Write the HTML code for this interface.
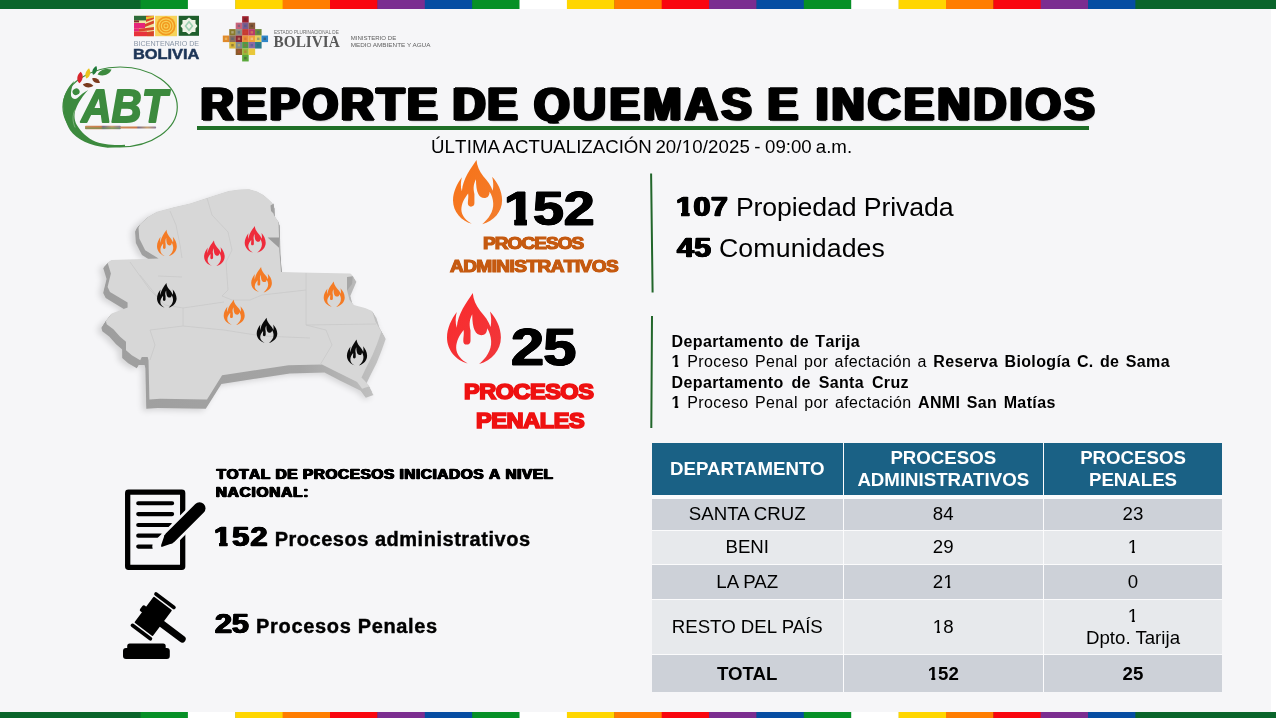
<!DOCTYPE html>
<html lang="es">
<head>
<meta charset="utf-8">
<title>Reporte de Quemas e Incendios</title>
<style>
*{box-sizing:border-box;margin:0;padding:0}
html,body{width:1276px;height:718px;overflow:hidden;background:#f6f6f8}
body{position:relative;font-family:"Liberation Sans",sans-serif;color:#000}
.t{position:absolute;white-space:nowrap;line-height:1;transform-origin:0 0;font-kerning:none}
.bar{position:absolute;left:0;width:1276px;display:block}
#edge{position:absolute;left:1271px;top:9px;width:5px;height:703px;background:#fff}
.vl{position:absolute;width:2px;background:#22662b}
#uline{position:absolute;left:197px;top:125.6px;width:891.8px;height:4.9px;background:#1f6f27;z-index:3}
.d b{font-weight:700}
#title{font-size:0;font-weight:700}
#sub{font-size:0}
.one1{display:inline-block;line-height:1}
.one{display:inline-block;line-height:1}
/*FIT*/
#ti1{left:200.63px;top:82.00px;font-size:45.6px;letter-spacing:2.751px;font-weight:700;-webkit-text-stroke:1.60px currentColor;paint-order:stroke fill;--hs:2.05px 0 0 currentColor,-2.05px 0 0 currentColor,1.03px 0 0 currentColor,-1.03px 0 0 currentColor;text-shadow:var(--hs),1.2px 1.2px 1.8px rgba(0,0,0,.4);clip-path:inset(-20px -20px 4.40px -20px);}
#ti2{left:452.63px;top:82.00px;font-size:45.6px;letter-spacing:1.745px;font-weight:700;-webkit-text-stroke:1.60px currentColor;paint-order:stroke fill;--hs:2.05px 0 0 currentColor,-2.05px 0 0 currentColor,1.03px 0 0 currentColor,-1.03px 0 0 currentColor;text-shadow:var(--hs),1.2px 1.2px 1.8px rgba(0,0,0,.4);clip-path:inset(-20px -20px 4.40px -20px);}
#ti3{left:534.09px;top:82.00px;font-size:45.6px;letter-spacing:3.492px;font-weight:700;-webkit-text-stroke:1.60px currentColor;paint-order:stroke fill;--hs:2.05px 0 0 currentColor,-2.05px 0 0 currentColor,1.03px 0 0 currentColor,-1.03px 0 0 currentColor;text-shadow:var(--hs),1.2px 1.2px 1.8px rgba(0,0,0,.4);clip-path:inset(-20px -20px 4.40px -20px);}
#ti4{left:767.63px;top:82.00px;font-size:45.6px;font-weight:700;-webkit-text-stroke:1.60px currentColor;paint-order:stroke fill;--hs:2.05px 0 0 currentColor,-2.05px 0 0 currentColor,1.03px 0 0 currentColor,-1.03px 0 0 currentColor;text-shadow:var(--hs),1.2px 1.2px 1.8px rgba(0,0,0,.4);clip-path:inset(-20px -20px 4.40px -20px);}
#ti5{left:815.75px;top:82.00px;font-size:45.6px;letter-spacing:3.181px;font-weight:700;-webkit-text-stroke:1.60px currentColor;paint-order:stroke fill;--hs:2.05px 0 0 currentColor,-2.05px 0 0 currentColor,1.03px 0 0 currentColor,-1.03px 0 0 currentColor;text-shadow:var(--hs),1.2px 1.2px 1.8px rgba(0,0,0,.4);clip-path:inset(-20px -20px 4.40px -20px);}
#sb1{left:431.00px;top:138.00px;font-size:18.67px;letter-spacing:0.131px;}
#sb2{left:502.58px;top:138.00px;font-size:18.67px;letter-spacing:-0.004px;}
#sb3{left:655.38px;top:138.00px;font-size:18.67px;letter-spacing:0.123px;}
#sb4{left:754.17px;top:138.00px;font-size:18.67px;}
#sb5{left:765.06px;top:138.00px;font-size:18.67px;letter-spacing:-0.014px;}
#sb6{left:815.75px;top:138.00px;font-size:18.67px;letter-spacing:0.012px;}
#n152{left:503.86px;top:184.00px;font-size:49px;letter-spacing:-0.063px;transform:scaleX(1.1300);font-weight:700;-webkit-text-stroke:0.83px currentColor;paint-order:stroke fill;--hs:0.88px 0 0 currentColor,-0.88px 0 0 currentColor,0.44px 0 0 currentColor,-0.44px 0 0 currentColor;text-shadow:var(--hs);}
#pa1{left:482.58px;top:235.01px;font-size:17.0px;letter-spacing:-0.857px;transform:scaleX(1.1200);font-weight:700;-webkit-text-stroke:1.19px currentColor;paint-order:stroke fill;--hs:0.17px 0 0 currentColor,-0.17px 0 0 currentColor,0.09px 0 0 currentColor,-0.09px 0 0 currentColor;text-shadow:var(--hs);color:#c55a11;}
#pa2{left:449.96px;top:258.00px;font-size:17.0px;letter-spacing:-0.508px;transform:scaleX(1.1200);font-weight:700;-webkit-text-stroke:1.19px currentColor;paint-order:stroke fill;--hs:0.17px 0 0 currentColor,-0.17px 0 0 currentColor,0.09px 0 0 currentColor,-0.09px 0 0 currentColor;text-shadow:var(--hs);color:#c55a11;}
#n25{left:511.13px;top:321.00px;font-size:52.6px;letter-spacing:-0.698px;transform:scaleX(1.1300);font-weight:700;-webkit-text-stroke:0.89px currentColor;paint-order:stroke fill;--hs:0.95px 0 0 currentColor,-0.95px 0 0 currentColor,0.47px 0 0 currentColor,-0.47px 0 0 currentColor;text-shadow:var(--hs);}
#pp1{left:463.90px;top:381.00px;font-size:21.8px;letter-spacing:-0.475px;transform:scaleX(1.0800);font-weight:700;-webkit-text-stroke:1.74px currentColor;paint-order:stroke fill;--hs:0.33px 0 0 currentColor,-0.33px 0 0 currentColor,0.16px 0 0 currentColor,-0.16px 0 0 currentColor;text-shadow:var(--hs);color:#ee1111;}
#pp2{left:475.94px;top:410.00px;font-size:21.8px;letter-spacing:-0.386px;transform:scaleX(1.0800);font-weight:700;-webkit-text-stroke:1.74px currentColor;paint-order:stroke fill;--hs:0.33px 0 0 currentColor,-0.33px 0 0 currentColor,0.16px 0 0 currentColor,-0.16px 0 0 currentColor;text-shadow:var(--hs);color:#ee1111;}
#l1n{left:676.00px;top:193.01px;font-size:27.2px;letter-spacing:0.473px;transform:scaleX(1.1200);font-weight:700;-webkit-text-stroke:0.46px currentColor;paint-order:stroke fill;--hs:0.82px 0 0 currentColor,-0.82px 0 0 currentColor,0.41px 0 0 currentColor,-0.41px 0 0 currentColor;text-shadow:var(--hs);}
#l1t{left:735.89px;top:194.01px;font-size:26.67px;letter-spacing:-0.104px;}
#l2n{left:676.99px;top:234.01px;font-size:27.2px;letter-spacing:0.225px;transform:scaleX(1.1200);font-weight:700;-webkit-text-stroke:0.46px currentColor;paint-order:stroke fill;--hs:0.82px 0 0 currentColor,-0.82px 0 0 currentColor,0.41px 0 0 currentColor,-0.41px 0 0 currentColor;text-shadow:var(--hs);}
#l2t{left:718.94px;top:235.00px;font-size:26.67px;letter-spacing:0.151px;}
#d1{left:671.61px;top:334.00px;font-size:16px;letter-spacing:0.370px;word-spacing:1.283px;}
#d2{left:671.61px;top:354.01px;font-size:16px;letter-spacing:0.370px;word-spacing:1.542px;}
#d3{left:671.61px;top:375.01px;font-size:16px;letter-spacing:0.370px;word-spacing:2.997px;}
#d4{left:671.61px;top:395.01px;font-size:16px;letter-spacing:0.370px;word-spacing:1.615px;}
#tt1{left:216.60px;top:466.01px;font-size:15.5px;letter-spacing:0.499px;font-weight:700;-webkit-text-stroke:0.46px currentColor;paint-order:stroke fill;--hs:0.78px 0 0 currentColor,-0.78px 0 0 currentColor,0.39px 0 0 currentColor,-0.39px 0 0 currentColor;text-shadow:var(--hs);}
#tt2{left:215.75px;top:484.01px;font-size:15.5px;letter-spacing:0.710px;font-weight:700;-webkit-text-stroke:0.46px currentColor;paint-order:stroke fill;--hs:0.78px 0 0 currentColor,-0.78px 0 0 currentColor,0.39px 0 0 currentColor,-0.39px 0 0 currentColor;text-shadow:var(--hs);}
#s1n{left:214.00px;top:523.00px;font-size:27.2px;letter-spacing:1.177px;transform:scaleX(1.1200);font-weight:700;-webkit-text-stroke:0.46px currentColor;paint-order:stroke fill;--hs:0.82px 0 0 currentColor,-0.82px 0 0 currentColor,0.41px 0 0 currentColor,-0.41px 0 0 currentColor;text-shadow:var(--hs);}
#s1t{left:274.63px;top:529.01px;font-size:20px;letter-spacing:0.520px;font-weight:700;-webkit-text-stroke:0.40px currentColor;paint-order:stroke fill;font-weight:700;}
#s2n{left:215.20px;top:610.01px;font-size:27.2px;letter-spacing:-0.017px;transform:scaleX(1.1200);font-weight:700;-webkit-text-stroke:0.46px currentColor;paint-order:stroke fill;--hs:0.82px 0 0 currentColor,-0.82px 0 0 currentColor,0.41px 0 0 currentColor,-0.41px 0 0 currentColor;text-shadow:var(--hs);}
#s2t{left:256.12px;top:616.01px;font-size:20px;letter-spacing:0.659px;font-weight:700;-webkit-text-stroke:0.40px currentColor;paint-order:stroke fill;font-weight:700;}
/*ENDFIT*/
/* table */
#tbl{position:absolute;left:652px;top:443px;width:570px;height:249px}
#tbl div{position:absolute;display:flex;align-items:center;justify-content:center;text-align:center;font-size:18.67px;line-height:22px;white-space:nowrap}
#tbl .h{background:#1a6185;color:#fff;font-weight:700;top:0;height:51.5px}
#tbl .a{background:#cdd1d8}
#tbl .b{background:#e7e9ec}
#tbl .c1{left:0;width:190.5px}
#tbl .c2{left:192px;width:198.5px}
#tbl .c3{left:392px;width:178px}
#tbl .r1{top:56px;height:30.5px}
#tbl .r2{top:88px;height:32.5px}
#tbl .r3{top:122px;height:33.5px}
#tbl .r4{top:157px;height:53.5px}
#tbl .r5{top:212px;height:37px;font-weight:700}
#tblbg{position:absolute;left:652px;top:443px;width:570px;height:249px;background:#fbfbfc}
svg{position:absolute;overflow:visible}
</style>
</head>
<body>
<!--BARS-->
<svg class="bar" id="bt" style="left:0;top:0px" width="1276" height="9" viewBox="0 0 1276 9"><rect x="0" y="0" width="1276" height="9" fill="#0a652b"/><rect x="140.5" y="0" width="47.7" height="9" fill="#069026"/><rect x="187.9" y="0" width="47.7" height="9" fill="#ffffff"/><rect x="235.3" y="0" width="47.7" height="9" fill="#ffd600"/><rect x="282.6" y="0" width="47.7" height="9" fill="#ff7d00"/><rect x="330.0" y="0" width="47.7" height="9" fill="#f9060f"/><rect x="377.4" y="0" width="47.7" height="9" fill="#7b2d90"/><rect x="424.8" y="0" width="47.7" height="9" fill="#064da2"/><rect x="472.2" y="0" width="47.7" height="9" fill="#069026"/><rect x="519.5" y="0" width="47.7" height="9" fill="#ffffff"/><rect x="566.9" y="0" width="47.7" height="9" fill="#ffd600"/><rect x="614.3" y="0" width="47.7" height="9" fill="#ff7d00"/><rect x="661.7" y="0" width="47.7" height="9" fill="#f9060f"/><rect x="709.1" y="0" width="47.7" height="9" fill="#7b2d90"/><rect x="756.5" y="0" width="47.7" height="9" fill="#064da2"/><rect x="803.8" y="0" width="47.7" height="9" fill="#069026"/><rect x="851.2" y="0" width="47.7" height="9" fill="#ffffff"/><rect x="898.6" y="0" width="47.7" height="9" fill="#ffd600"/><rect x="946.0" y="0" width="47.7" height="9" fill="#ff7d00"/><rect x="993.4" y="0" width="47.7" height="9" fill="#f9060f"/><rect x="1040.7" y="0" width="47.7" height="9" fill="#7b2d90"/><rect x="1088.1" y="0" width="47.7" height="9" fill="#064da2"/><rect x="1135.5" y="0" width="140.5" height="9" fill="#0a652b"/></svg>
<svg class="bar" id="bb" style="left:0;top:712px" width="1276" height="6" viewBox="0 0 1276 6"><rect x="0" y="0" width="1276" height="6" fill="#0a652b"/><rect x="140.5" y="0" width="47.7" height="6" fill="#069026"/><rect x="187.9" y="0" width="47.7" height="6" fill="#ffffff"/><rect x="235.3" y="0" width="47.7" height="6" fill="#ffd600"/><rect x="282.6" y="0" width="47.7" height="6" fill="#ff7d00"/><rect x="330.0" y="0" width="47.7" height="6" fill="#f9060f"/><rect x="377.4" y="0" width="47.7" height="6" fill="#7b2d90"/><rect x="424.8" y="0" width="47.7" height="6" fill="#064da2"/><rect x="472.2" y="0" width="47.7" height="6" fill="#069026"/><rect x="519.5" y="0" width="47.7" height="6" fill="#ffffff"/><rect x="566.9" y="0" width="47.7" height="6" fill="#ffd600"/><rect x="614.3" y="0" width="47.7" height="6" fill="#ff7d00"/><rect x="661.7" y="0" width="47.7" height="6" fill="#f9060f"/><rect x="709.1" y="0" width="47.7" height="6" fill="#7b2d90"/><rect x="756.5" y="0" width="47.7" height="6" fill="#064da2"/><rect x="803.8" y="0" width="47.7" height="6" fill="#069026"/><rect x="851.2" y="0" width="47.7" height="6" fill="#ffffff"/><rect x="898.6" y="0" width="47.7" height="6" fill="#ffd600"/><rect x="946.0" y="0" width="47.7" height="6" fill="#ff7d00"/><rect x="993.4" y="0" width="47.7" height="6" fill="#f9060f"/><rect x="1040.7" y="0" width="47.7" height="6" fill="#7b2d90"/><rect x="1088.1" y="0" width="47.7" height="6" fill="#064da2"/><rect x="1135.5" y="0" width="140.5" height="6" fill="#0a652b"/></svg>
<!--/BARS-->
<div id="edge"></div>
<!--LOGOS-->
<svg id="bic" style="left:0;top:0" width="1276" height="718" viewBox="0 0 1276 718">
<g><rect x="134" y="15.8" width="19.9" height="20.4" fill="#f0e6a0"/><rect x="134" y="15.8" width="12" height="4.6" fill="#2d6b3a"/><rect x="134" y="20.4" width="5" height="2" fill="#7a3030"/><rect x="134" y="23" width="11" height="5.5" fill="#e6247a"/><rect x="134" y="28.5" width="5" height="3" fill="#e6247a"/><rect x="134" y="31.5" width="13" height="4.7" fill="#e8323c"/><path d="M146 15.8L153.9 15.8L153.9 19L146 22ZM145 24L153.9 20.5L153.9 23.5L145 27ZM139 29L153.9 27L153.9 30L139 31.5ZM147 32L153.9 31L153.9 36.2L147 36.2Z" fill="#d8452a"/><path d="M146 17L153.9 15.8L153.9 17.5L146 19.5Z" fill="#e9c62c"/></g><rect x="155.1" y="15.8" width="21.9" height="20.4" fill="#f6d35a"/><circle cx="166" cy="26" r="9.6" fill="#f29a1f"/><circle cx="166" cy="26" r="7.2" fill="none" stroke="#f8d057" stroke-width="1.2"/><circle cx="166" cy="26" r="4.6" fill="none" stroke="#f8d057" stroke-width="1.2"/><circle cx="166" cy="26" r="2" fill="none" stroke="#f8d057" stroke-width="1.1"/><rect x="178.7" y="15.8" width="20.3" height="20" fill="#1f5e2c"/><path d="M189 17.5L192 20L195.5 20L195.5 23.5L197.5 26L195.5 28.5L195.5 32L192 32L189 34.5L186 32L182.5 32L182.5 28.5L180.5 26L182.5 23.5L182.5 20L186 20Z" fill="#eef3e6"/><path d="M189 20.5L193.5 26L189 31.5L184.5 26Z" fill="#9ccfb0"/><path d="M189 23L191.5 26L189 29L186.5 26Z" fill="#eef3e6"/><text x="133.8" y="46.3" font-family="Liberation Sans,sans-serif" font-size="6.9" fill="#8995a6" textLength="65.3" lengthAdjust="spacingAndGlyphs">BICENTENARIO DE</text>
<text x="132.9" y="59.2" font-family="Liberation Sans,sans-serif" font-weight="700" font-size="15.2" fill="#1d3557" stroke="#1d3557" stroke-width=".5" textLength="66.6" lengthAdjust="spacingAndGlyphs">BOLIVIA</text></svg>
<svg id="chk" style="left:0;top:0" width="1276" height="718" viewBox="0 0 1276 718"><g><rect x="242.15" y="16.20" width="6.55" height="6.55" fill="#9c1f2b"/><rect x="235.70" y="22.65" width="6.55" height="6.55" fill="#c9637a"/><rect x="242.15" y="22.65" width="6.55" height="6.55" fill="#7c5a8c"/><rect x="248.60" y="22.65" width="6.55" height="6.55" fill="#8a5a3a"/><rect x="229.25" y="29.10" width="6.55" height="6.55" fill="#8a7a2a"/><rect x="235.70" y="29.10" width="6.55" height="6.55" fill="#8d8f86"/><rect x="242.15" y="29.10" width="6.55" height="6.55" fill="#c63a32"/><rect x="248.60" y="29.10" width="6.55" height="6.55" fill="#b93a6c"/><rect x="255.05" y="29.10" width="6.55" height="6.55" fill="#6a8a3a"/><rect x="222.80" y="35.55" width="6.55" height="6.55" fill="#e08a2a"/><rect x="229.25" y="35.55" width="6.55" height="6.55" fill="#8a6e5e"/><rect x="235.70" y="35.55" width="6.55" height="6.55" fill="#8e2430"/><rect x="242.15" y="35.55" width="6.55" height="6.55" fill="#e8923a"/><rect x="248.60" y="35.55" width="6.55" height="6.55" fill="#f0a03c"/><rect x="255.05" y="35.55" width="6.55" height="6.55" fill="#e8d05a"/><rect x="261.50" y="35.55" width="6.55" height="6.55" fill="#2f86c8"/><rect x="229.25" y="42.00" width="6.55" height="6.55" fill="#d8b83a"/><rect x="235.70" y="42.00" width="6.55" height="6.55" fill="#7e8a8e"/><rect x="242.15" y="42.00" width="6.55" height="6.55" fill="#4f9a48"/><rect x="248.60" y="42.00" width="6.55" height="6.55" fill="#8a6aa6"/><rect x="255.05" y="42.00" width="6.55" height="6.55" fill="#2c7a8a"/><rect x="235.70" y="48.45" width="6.55" height="6.55" fill="#8a5a2a"/><rect x="242.15" y="48.45" width="6.55" height="6.55" fill="#9ab83a"/><rect x="248.60" y="48.45" width="6.55" height="6.55" fill="#e8c83a"/><rect x="242.15" y="54.90" width="6.55" height="6.55" fill="#5aa83a"/><rect x="244.15" y="18.20" width="2.45" height="2.45" fill="#3a2a2a" opacity=".4"/><rect x="237.70" y="24.65" width="2.45" height="2.45" fill="#2a5a8a" opacity=".4"/><rect x="244.15" y="24.65" width="2.45" height="2.45" fill="#2a5a8a" opacity=".4"/><rect x="250.60" y="24.65" width="2.45" height="2.45" fill="#3a2a2a" opacity=".4"/><rect x="231.25" y="31.10" width="2.45" height="2.45" fill="#e8e8e8" opacity=".4"/><rect x="237.70" y="31.10" width="2.45" height="2.45" fill="#2a5a8a" opacity=".4"/><rect x="244.15" y="31.10" width="2.45" height="2.45" fill="#d04a3a" opacity=".4"/><rect x="250.60" y="31.10" width="2.45" height="2.45" fill="#f0c040" opacity=".4"/><rect x="257.05" y="31.10" width="2.45" height="2.45" fill="#2a5a8a" opacity=".4"/><rect x="224.80" y="37.55" width="2.45" height="2.45" fill="#f4e6a0" opacity=".4"/><rect x="231.25" y="37.55" width="2.45" height="2.45" fill="#2a5a8a" opacity=".4"/><rect x="237.70" y="37.55" width="2.45" height="2.45" fill="#f4e6a0" opacity=".4"/><rect x="244.15" y="37.55" width="2.45" height="2.45" fill="#d04a3a" opacity=".4"/><rect x="250.60" y="37.55" width="2.45" height="2.45" fill="#e8e8e8" opacity=".4"/><rect x="257.05" y="37.55" width="2.45" height="2.45" fill="#2a5a8a" opacity=".4"/><rect x="263.50" y="37.55" width="2.45" height="2.45" fill="#3a2a2a" opacity=".4"/><rect x="231.25" y="44.00" width="2.45" height="2.45" fill="#3a2a2a" opacity=".4"/><rect x="237.70" y="44.00" width="2.45" height="2.45" fill="#f0c040" opacity=".4"/><rect x="244.15" y="44.00" width="2.45" height="2.45" fill="#d04a3a" opacity=".4"/><rect x="250.60" y="44.00" width="2.45" height="2.45" fill="#2a5a8a" opacity=".4"/><rect x="257.05" y="44.00" width="2.45" height="2.45" fill="#2a5a8a" opacity=".4"/><rect x="237.70" y="50.45" width="2.45" height="2.45" fill="#d04a3a" opacity=".4"/><rect x="244.15" y="50.45" width="2.45" height="2.45" fill="#d04a3a" opacity=".4"/><rect x="250.60" y="50.45" width="2.45" height="2.45" fill="#f0c040" opacity=".4"/><rect x="244.15" y="56.90" width="2.45" height="2.45" fill="#3a2a2a" opacity=".4"/></g><text x="273.9" y="34" font-family="Liberation Sans,sans-serif" font-size="4.6" fill="#6b6b6b" textLength="64.9" lengthAdjust="spacingAndGlyphs">ESTADO PLURINACIONAL DE</text>
<text x="273.6" y="47.1" font-family="Liberation Serif,serif" font-weight="700" font-size="16.6" fill="#585858" textLength="66.2" lengthAdjust="spacingAndGlyphs">BOLIVIA</text>
<text x="350.7" y="40.3" font-family="Liberation Sans,sans-serif" font-size="5.9" fill="#5e5e5e" textLength="45.5" lengthAdjust="spacingAndGlyphs">MINISTERIO DE</text>
<text x="350.7" y="47.1" font-family="Liberation Sans,sans-serif" font-size="5.9" fill="#5e5e5e" textLength="79.7" lengthAdjust="spacingAndGlyphs">MEDIO AMBIENTE Y AGUA</text></svg>
<svg id="abt" style="left:50px;top:60px" width="140" height="95" viewBox="0 0 1058 718"><ellipse cx="530" cy="355" rx="432" ry="302" fill="none" stroke="#3c8a3e" stroke-width="9"/><path d="M185 156C150 185 105 250 99 322C95 400 120 480 152 531C200 600 300 650 436 663L567 656L567 640C480 647 390 635 341 616C290 595 230 540 204 493C180 450 180 400 199 360C215 325 250 265 289 227C260 240 225 270 205 290C190 300 172 295 162 278C152 255 165 195 185 156Z" fill="#3c8a3e"/><ellipse cx="197" cy="240" rx="27" ry="25" transform="rotate(-30 197 240)" fill="#3c8a3e"/><path d="M188 380C168 420 170 470 190 510" fill="none" stroke="#cfe5c8" stroke-width="4" opacity=".8"/><path d="M232 88C255 110 252 150 222 175C195 150 205 110 232 88Z" fill="#d8252c"/><path d="M295 62C312 90 305 125 275 140C258 112 270 82 295 62Z" fill="#eac41e"/><path d="M350 45C362 70 352 100 325 112C312 85 325 60 350 45Z" fill="#1f7a3a"/><path d="M318 140C345 130 370 145 378 172C350 180 325 168 318 140Z" fill="#7a3b1e"/><path d="M248 185C275 165 310 172 328 195C300 215 265 210 248 185Z" fill="#7a3b1e"/><path d="M360 110C375 75 420 60 465 72C450 110 405 128 360 110Z" fill="#3c8a3e"/><text x="238" y="468" font-family="Liberation Sans,sans-serif" font-weight="700" font-style="italic" font-size="345" fill="#3c8a3e" stroke="#3c8a3e" stroke-width="14" stroke-linejoin="round" textLength="648" lengthAdjust="spacingAndGlyphs">ABT</text><defs><linearGradient id="abtl" x1="0" x2="1" y1="0" y2="0"><stop offset="0" stop-color="#c98a5a"/><stop offset=".45" stop-color="#d07a4a"/><stop offset=".5" stop-color="#7a6a8a"/><stop offset=".75" stop-color="#c8a070"/><stop offset="1" stop-color="#8a7a9a"/></linearGradient></defs><rect x="265" y="497" width="270" height="26" rx="6" fill="url(#abtl)"/><rect x="265" y="510" width="270" height="10" fill="#5f9a55" opacity=".7"/><rect x="530" y="503" width="272" height="15" rx="6" fill="url(#abtl)"/></svg>
<!--/LOGOS-->
<!--MAP-->
<svg id="map" style="left:0;top:0" width="1276" height="718" viewBox="0 0 1276 718">
<defs><filter id="mb" x="-10%" y="-10%" width="120%" height="120%"><feGaussianBlur stdDeviation="0.6"/></filter><filter id="ms" x="-20%" y="-20%" width="140%" height="140%"><feGaussianBlur stdDeviation="3"/></filter><linearGradient id="mg" x1="0" y1="0" x2="1" y2="0"><stop offset="0" stop-color="#9e9e9e"/><stop offset=".7" stop-color="#a4a4a4"/><stop offset="1" stop-color="#c4c4c4"/></linearGradient><path id="fl" d="M345 45C350 100 370 150 410 200C450 245 485 290 500 340C510 290 505 245 495 205C545 260 590 340 590 430C590 540 510 630 400 660C460 610 510 540 505 460C503 420 490 380 470 350C470 390 450 410 420 410C370 410 340 360 340 230C320 270 310 310 325 370L325 460C325 480 310 492 292 492C272 492 262 478 262 460C262 430 270 400 265 365C230 410 200 460 200 520C200 580 250 630 300 655C200 630 120 540 120 430C120 350 160 270 205 210C195 250 190 300 205 345C215 220 290 130 345 45Z"/></defs>
<polygon points="131.2,232.2 133.0,228.7 141.1,221.1 150.4,215.7 169.2,210.7 185.1,206.9 205.6,200.3 225.2,193.9 236.8,192.5 246.4,192.2 254.5,194.6 261.1,198.2 265.9,202.4 269.9,206.1 271.6,208.6 272.0,219.1 276.8,226.1 277.4,241.8 277.7,255.6 279.4,278.3 299.2,278.8 351.6,279.9 354.2,282.6 351.2,289.7 348.1,297.0 350.8,307.4 355.0,312.6 366.8,315.7 374.2,318.7 377.7,330.1 383.8,340.5 379.3,353.2 374.6,364.6 367.8,378.1 363.2,388.0 365.8,390.6 371.6,397.0 363.8,399.6 358.6,392.7 337.7,382.3 322.1,374.4 287.2,375.3 247.2,381.2 218.2,385.7 202.5,410.9 153.8,410.0 142.6,410.9 141.6,370.0 140.8,366.6 134.7,366.6 133.0,370.0 124.3,364.8 118.2,359.6 118.2,350.9 112.1,345.7 105.1,337.9 98.2,332.7 97.3,329.1 103.4,321.3 119.9,315.3 119.9,310.0 101.6,299.1 99.1,293.9 102.5,279.9 99.1,268.7 103.4,265.7 152.1,264.3 138.2,255.6 132.1,243.4" fill="#000" opacity=".14" filter="url(#ms)"/>
<g filter="url(#mb)"><polygon points="137.9,228.4 139.6,225.0 147.5,217.6 156.4,212.4 174.6,207.6 190.0,204.0 209.8,197.5 228.7,191.4 240.0,190.0 249.2,189.7 257.1,192.0 263.5,195.5 268.1,199.5 271.9,203.2 273.7,205.6 274.0,215.7 278.7,222.5 279.2,237.6 279.5,251.0 281.2,272.9 300.3,273.4 351.0,274.5 353.5,277.1 350.6,284.0 347.5,291.0 350.2,301.1 354.3,306.1 365.6,309.1 372.8,312.0 376.2,323.0 382.0,333.0 377.7,345.3 373.2,356.3 366.6,369.4 362.1,378.9 364.6,381.4 370.3,387.7 362.7,390.2 357.7,383.5 337.5,373.4 322.4,365.8 288.7,366.7 250.0,372.4 222.0,376.7 206.8,401.0 159.7,400.2 148.9,401.0 148.0,361.6 147.2,358.2 141.2,358.2 139.6,361.6 131.2,356.5 125.4,351.5 125.4,343.1 119.4,338.0 112.7,330.5 106.0,325.5 105.2,322.1 111.0,314.5 127.0,308.7 127.0,303.6 109.3,293.0 106.9,288.0 110.2,274.5 106.9,263.7 111.0,260.7 158.1,259.4 144.7,251.0 138.7,239.2" fill="url(#mg)"/><polygon points="137.4,229.1 139.1,225.6 147.0,218.3 156.0,213.0 174.3,208.2 189.7,204.5 209.6,198.1 228.6,191.9 239.9,190.5 249.2,190.2 257.1,192.5 263.6,196.1 268.2,200.1 272.1,203.7 273.8,206.2 274.1,216.4 278.9,223.1 279.4,238.4 279.7,251.8 281.4,273.8 300.6,274.3 351.5,275.4 354.1,278.1 351.1,284.9 348.1,292.0 350.7,302.1 354.9,307.1 366.3,310.2 373.5,313.1 376.9,324.1 382.8,334.2 378.4,346.5 373.9,357.6 367.3,370.8 362.7,380.4 365.3,382.9 370.9,389.2 363.3,391.7 358.3,384.9 338.0,374.8 322.8,367.1 289.0,368.1 250.1,373.8 221.9,378.2 206.6,402.6 159.3,401.8 148.4,402.6 147.5,362.9 146.7,359.6 140.7,359.6 139.1,362.9 130.6,357.9 124.7,352.8 124.7,344.3 118.8,339.3 112.0,331.7 105.2,326.6 104.4,323.2 110.3,315.6 126.3,309.8 126.3,304.6 108.6,294.0 106.1,289.0 109.5,275.4 106.1,264.5 110.3,261.6 157.7,260.3 144.1,251.8 138.2,240.0" fill="url(#mg)"/><polygon points="136.8,229.8 138.5,226.3 146.4,218.9 155.5,213.6 173.9,208.8 189.4,205.1 209.4,198.6 228.5,192.4 239.9,191.0 249.3,190.7 257.2,193.0 263.7,196.6 268.4,200.6 272.2,204.3 274.0,206.7 274.3,217.0 279.0,223.8 279.5,239.1 279.8,252.6 281.6,274.7 300.9,275.2 352.1,276.4 354.6,279.0 351.7,285.9 348.6,293.0 351.3,303.1 355.4,308.2 366.9,311.3 374.1,314.2 377.6,325.3 383.5,335.4 379.1,347.8 374.5,359.0 367.9,372.2 363.4,381.8 365.9,384.4 371.6,390.6 364.0,393.2 358.9,386.4 338.5,376.2 323.2,368.5 289.2,369.4 250.1,375.2 221.7,379.6 206.4,404.1 158.8,403.3 147.9,404.1 147.0,364.3 146.1,360.9 140.1,360.9 138.5,364.3 130.0,359.2 124.1,354.1 124.1,345.6 118.1,340.5 111.3,332.9 104.5,327.8 103.7,324.4 109.6,316.8 125.7,310.9 125.7,305.7 107.8,295.0 105.4,290.0 108.8,276.4 105.4,265.4 109.6,262.4 157.2,261.1 143.6,252.6 137.6,240.7" fill="url(#mg)"/><polygon points="136.2,230.5 138.0,227.0 145.9,219.5 155.0,214.2 173.5,209.3 189.1,205.7 209.3,199.1 228.5,192.9 239.9,191.5 249.3,191.2 257.3,193.5 263.8,197.1 268.5,201.2 272.4,204.9 274.1,207.3 274.4,217.6 279.2,224.4 279.7,239.8 280.0,253.4 281.8,275.6 301.2,276.1 352.6,277.3 355.2,279.9 352.2,286.9 349.2,294.0 351.8,304.2 356.0,309.3 367.6,312.4 374.8,315.3 378.3,326.4 384.2,336.6 379.8,349.1 375.2,360.3 368.6,373.6 364.0,383.2 366.5,385.8 372.3,392.1 364.6,394.7 359.5,387.8 339.0,377.6 323.6,369.9 289.4,370.8 250.1,376.6 221.6,381.0 206.2,405.7 158.4,404.9 147.4,405.7 146.4,365.6 145.6,362.2 139.6,362.2 138.0,365.6 129.4,360.5 123.5,355.4 123.5,346.8 117.4,341.7 110.6,334.1 103.7,329.0 102.9,325.5 108.9,317.9 125.1,312.0 125.1,306.8 107.1,296.0 104.7,290.9 108.0,277.3 104.7,266.3 108.9,263.3 156.8,262.0 143.1,253.4 137.0,241.5" fill="url(#mg)"/><polygon points="135.7,231.1 137.4,227.7 145.4,220.2 154.6,214.8 173.1,209.9 188.8,206.2 209.1,199.7 228.4,193.4 239.9,192.0 249.3,191.7 257.3,194.0 263.9,197.6 268.6,201.7 272.5,205.4 274.3,207.9 274.6,218.2 279.4,225.1 279.9,240.6 280.2,254.2 282.0,276.6 301.5,277.1 353.2,278.2 355.8,280.9 352.8,287.8 349.7,295.0 352.4,305.2 356.6,310.4 368.2,313.4 375.5,316.4 379.0,327.6 384.9,337.8 380.5,350.4 375.9,361.6 369.2,374.9 364.6,384.7 367.2,387.2 372.9,393.6 365.2,396.2 360.1,389.3 339.5,379.1 324.1,371.3 289.7,372.2 250.1,378.0 221.5,382.4 206.0,407.2 157.9,406.4 146.9,407.2 145.9,367.0 145.1,363.6 139.0,363.6 137.4,367.0 128.8,361.8 122.8,356.7 122.8,348.1 116.8,343.0 109.9,335.3 103.0,330.2 102.2,326.7 108.1,319.0 124.5,313.0 124.5,307.8 106.4,297.1 103.9,291.9 107.3,278.2 103.9,267.1 108.1,264.1 156.3,262.8 142.5,254.2 136.5,242.2" fill="url(#mg)"/><polygon points="135.1,231.8 136.8,228.3 144.9,220.8 154.1,215.5 172.8,210.5 188.5,206.8 208.9,200.2 228.3,193.9 239.8,192.5 249.3,192.2 257.4,194.5 264.0,198.1 268.7,202.3 272.7,206.0 274.4,208.4 274.7,218.9 279.6,225.8 280.1,241.3 280.4,255.0 282.2,277.5 301.8,278.0 353.8,279.1 356.4,281.8 353.4,288.8 350.3,296.0 352.9,306.3 357.2,311.4 368.8,314.5 376.2,317.5 379.7,328.8 385.7,339.1 381.2,351.6 376.6,362.9 369.9,376.3 365.2,386.1 367.8,388.7 373.6,395.1 365.8,397.7 360.7,390.8 339.9,380.5 324.5,372.6 289.9,373.6 250.2,379.4 221.4,383.9 205.8,408.8 157.5,408.0 146.3,408.8 145.4,368.3 144.6,364.9 138.5,364.9 136.8,368.3 128.2,363.2 122.2,358.0 122.2,349.4 116.1,344.2 109.2,336.5 102.3,331.3 101.4,327.8 107.4,320.1 123.8,314.1 123.8,308.9 105.7,298.1 103.2,292.9 106.6,279.1 103.2,268.0 107.4,265.0 155.8,263.7 142.0,255.0 135.9,243.0" fill="url(#mg)"/>
<polygon points="138.5,227.7 140.2,224.3 148.0,217.0 156.9,211.8 175.0,207.0 190.3,203.4 210.0,197.0 228.8,190.9 240.0,189.5 249.2,189.2 257.0,191.5 263.4,195.0 268.0,199.0 271.8,202.6 273.5,205.0 273.8,215.1 278.5,221.8 279.0,236.9 279.3,250.2 281.0,272.0 300.0,272.5 350.4,273.6 352.9,276.2 350.0,283.0 347.0,290.0 349.6,300.0 353.7,305.0 365.0,308.0 372.1,310.9 375.5,321.8 381.3,331.8 377.0,344.0 372.5,355.0 366.0,368.0 361.5,377.5 364.0,380.0 369.6,386.2 362.1,388.7 357.1,382.0 337.0,372.0 322.0,364.4 288.5,365.3 250.0,371.0 222.1,375.3 207.0,399.5 160.2,398.7 149.4,399.5 148.5,360.2 147.7,356.9 141.8,356.9 140.2,360.2 131.8,355.2 126.0,350.2 126.0,341.8 120.1,336.8 113.4,329.3 106.7,324.3 105.9,320.9 111.7,313.4 127.6,307.6 127.6,302.5 110.0,292.0 107.6,287.0 110.9,273.6 107.6,262.8 111.7,259.9 158.6,258.6 145.2,250.2 139.3,238.5" fill="#d7d7d7"/>
</g>
<g fill="none" stroke="#c9c9c9" stroke-width="0.8"><path d="M170 211L176 225L180 245L182 258"/><path d="M207 198L212 215L228 232L232 250L226 262L228 290L222 296"/><path d="M182 277L158 276"/><path d="M222 296L232 300L250 300L262 295L306 290"/><path d="M306 273L306 325L376 324"/><path d="M306 325L326 330L332 345L320 365"/><path d="M183 308L224 302"/><path d="M183 326L224 330L262 336L310 338"/><path d="M130 262L150 290L165 305L183 308L183 326L150 330"/><path d="M140 275L160 300"/><path d="M150 330L155 345L150 360"/></g>
<polygon points="267.6,237.4 279,237.4 279,247.7" fill="#9c9c9c"/><polygon points="270.5,205.5 273.8,203.5 274,214 271,211" fill="#a0a0a0"/><polygon points="347,277 352.9,276.2 352,284 347,290.4" fill="#a6a6a6"/><use href="#fl" fill="#f47b25" transform="translate(157.0 229.8) scale(0.0421 0.0428) translate(-120 -45)"/><use href="#fl" fill="#ee2b3b" transform="translate(204.1 240.6) scale(0.0438 0.0415) translate(-120 -45)"/><use href="#fl" fill="#ee2b3b" transform="translate(244.7 226.1) scale(0.0447 0.0431) translate(-120 -45)"/><use href="#fl" fill="#f47b25" transform="translate(251.2 267.1) scale(0.0440 0.0411) translate(-120 -45)"/><use href="#fl" fill="#0a0a0a" transform="translate(157.0 283.0) scale(0.0417 0.0400) translate(-120 -45)"/><use href="#fl" fill="#f47b25" transform="translate(223.7 299.7) scale(0.0447 0.0411) translate(-120 -45)"/><use href="#fl" fill="#f47b25" transform="translate(323.7 281.6) scale(0.0447 0.0411) translate(-120 -45)"/><use href="#fl" fill="#0a0a0a" transform="translate(256.7 317.8) scale(0.0438 0.0411) translate(-120 -45)"/><use href="#fl" fill="#0a0a0a" transform="translate(346.9 339.5) scale(0.0430 0.0424) translate(-120 -45)"/>
</svg>
<!--/MAP-->
<!--ICONS-->
<svg id="fo" style="left:452.5px;top:159.7px" width="49.1" height="64.2" viewBox="120 45 470 615" preserveAspectRatio="none"><defs><linearGradient id="fog" x1="0" y1="0" x2="1" y2="1"><stop offset="0" stop-color="#f87216"/><stop offset="1" stop-color="#f27d2e"/></linearGradient></defs><path d="M345 45C350 100 370 150 410 200C450 245 485 290 500 340C510 290 505 245 495 205C545 260 590 340 590 430C590 540 510 630 400 660C460 610 510 540 505 460C503 420 490 380 470 350C470 390 450 410 420 410C370 410 340 360 340 230C320 270 310 310 325 370L325 460C325 480 310 492 292 492C272 492 262 478 262 460C262 430 270 400 265 365C230 410 200 460 200 520C200 580 250 630 300 655C200 630 120 540 120 430C120 350 160 270 205 210C195 250 190 300 205 345C215 220 290 130 345 45Z" fill="url(#fog)"/></svg>
<svg id="fr" style="left:446.8px;top:293.3px" width="53.9" height="71.0" viewBox="120 45 470 615" preserveAspectRatio="none"><defs><linearGradient id="frg" x1="0" y1="0" x2="1" y2="1"><stop offset="0" stop-color="#fa2a2c"/><stop offset="1" stop-color="#f0383c"/></linearGradient></defs><path d="M345 45C350 100 370 150 410 200C450 245 485 290 500 340C510 290 505 245 495 205C545 260 590 340 590 430C590 540 510 630 400 660C460 610 510 540 505 460C503 420 490 380 470 350C470 390 450 410 420 410C370 410 340 360 340 230C320 270 310 310 325 370L325 460C325 480 310 492 292 492C272 492 262 478 262 460C262 430 270 400 265 365C230 410 200 460 200 520C200 580 250 630 300 655C200 630 120 540 120 430C120 350 160 270 205 210C195 250 190 300 205 345C215 220 290 130 345 45Z" fill="url(#frg)"/></svg>
<svg id="doc" style="left:115px;top:480px" width="100" height="100" viewBox="0 0 718 718"><rect x="91" y="87" width="395" height="540" rx="6" fill="none" stroke="#000" stroke-width="38"/><g stroke="#000" stroke-width="30" stroke-linecap="round"><path d="M167 167H410M167 245H410M167 323H400M167 400H330M167 478H290"/></g><path d="M330 480L610 200" stroke="#f6f6f8" stroke-width="125" stroke-linecap="round"/><path d="M310 500L380 420" stroke="#f6f6f8" stroke-width="50"/><path d="M395 415L607 203" stroke="#000" stroke-width="86" stroke-linecap="round"/><path d="M357 393L417 453L345 478Q325 486 332 465Z" fill="#000"/></svg>
<svg id="gav" style="left:0;top:0" width="1276" height="718" viewBox="0 0 1276 718"><g transform="translate(153.2 616.4) rotate(36.9) scale(0.11843)" fill="#000"><rect x="-97" y="-137" width="194" height="274" rx="8"/><rect x="-110" y="-181" width="220" height="31" rx="15"/><rect x="-110" y="150" width="220" height="31" rx="15"/><rect x="60" y="-24" width="280" height="60" rx="30"/><rect x="-126" y="-30" width="50" height="60" rx="14"/></g><rect x="127.2" y="643.4" width="38.5" height="10" rx="2.5" fill="#000"/><rect x="123" y="648" width="46.8" height="11" rx="3" fill="#000"/></svg>
<!--/ICONS-->
<h1 id="title"><span class="t" id="ti1">REPORTE</span> <span class="t" id="ti2">DE</span> <span class="t" id="ti3">QUEMAS</span> <span class="t" id="ti4">E</span> <span class="t" id="ti5">INCENDIOS</span></h1>
<div id="uline"></div>
<p id="sub"><span class="t" id="sb1">ÚLTIMA</span> <span class="t" id="sb2">ACTUALIZACIÓN</span> <span class="t" id="sb3">20/<span class="one1" style="clip-path:polygon(-28px -28px,28px -28px,28px 10px,7.04px 10px,7.04px 28px,3.99px 28px,3.99px 10px,-28px 10px)">1</span>0/2025</span> <span class="t" id="sb4">-</span> <span class="t" id="sb5">09:00</span> <span class="t" id="sb6">a.m.</span></p>

<div class="t blk" id="n152"><span class="one" style="clip-path:polygon(-74px -74px,74px -74px,74px 28px,20.16px 28px,20.16px 74px,9.44px 74px,9.44px 28px,-74px 28px);margin-right:-.03em">1</span>52</div>
<div class="t blk" id="pa1">PROCESOS</div>
<div class="t blk" id="pa2">ADMINISTRATIVOS</div>
<svg style="left:0;top:0" width="1276" height="718" viewBox="0 0 1276 718"><path d="M651.1 173.4L652.6 292.5M652 315.9L651.3 428" stroke="#22662b" stroke-width="2" fill="none"/></svg>
<div class="t blk" id="l1n"><span class="one" style="clip-path:polygon(-41px -41px,41px -41px,41px 16px,11.83px 16px,11.83px 41px,4.60px 41px,4.60px 16px,-41px 16px)">1</span>07</div>
<div class="t" id="l1t">Propiedad Privada</div>
<div class="t blk" id="l2n">45</div>
<div class="t" id="l2t">Comunidades</div>

<div class="t blk" id="n25">25</div>
<div class="t blk" id="pp1">PROCESOS</div>
<div class="t blk" id="pp2">PENALES</div>

<div class="t d" id="d1"><b>Departamento de Tarija</b></div>
<div class="t d" id="d2"><b><span class="one" style="clip-path:polygon(-24px -24px,24px -24px,24px 9px,6.63px 9px,6.63px 24px,3.03px 24px,3.03px 9px,-24px 9px)">1</span></b> Proceso Penal por afectación a <b>Reserva Biología C. de Sama</b></div>
<div class="t d" id="d3"><b>Departamento de Santa Cruz</b></div>
<div class="t d" id="d4"><b><span class="one" style="clip-path:polygon(-24px -24px,24px -24px,24px 9px,6.63px 9px,6.63px 24px,3.03px 24px,3.03px 9px,-24px 9px)">1</span></b> Proceso Penal por afectación <b>ANMI San Matías</b></div>

<div class="t blk" id="tt1">TOTAL DE PROCESOS INICIADOS A NIVEL</div>
<div class="t blk" id="tt2">NACIONAL:</div>
<div class="t blk" id="s1n"><span class="one" style="clip-path:polygon(-41px -41px,41px -41px,41px 16px,11.83px 16px,11.83px 41px,4.60px 41px,4.60px 16px,-41px 16px)">1</span>52</div>
<div class="t" id="s1t">Procesos administrativos</div>
<div class="t blk" id="s2n">25</div>
<div class="t" id="s2t">Procesos Penales</div>

<div id="tblbg"></div>
<div id="tbl">
<div class="h c1"><p>DEPARTAMENTO</p></div>
<div class="h c2"><p>PROCESOS<br>ADMINISTRATIVOS</p></div>
<div class="h c3"><p>PROCESOS<br>PENALES</p></div>
<div class="a c1 r1"><p>SANTA CRUZ</p></div>
<div class="a c2 r1"><p>84</p></div>
<div class="a c3 r1"><p>23</p></div>
<div class="b c1 r2"><p>BENI</p></div>
<div class="b c2 r2"><p>29</p></div>
<div class="b c3 r2"><p><span class="one1" style="clip-path:polygon(-28px -28px,28px -28px,28px 10px,7.04px 10px,7.04px 28px,3.99px 28px,3.99px 10px,-28px 10px)">1</span></p></div>
<div class="a c1 r3"><p>LA PAZ</p></div>
<div class="a c2 r3"><p>2<span class="one1" style="clip-path:polygon(-28px -28px,28px -28px,28px 10px,7.04px 10px,7.04px 28px,3.99px 28px,3.99px 10px,-28px 10px)">1</span></p></div>
<div class="a c3 r3"><p>0</p></div>
<div class="b c1 r4"><p>RESTO DEL PAÍS</p></div>
<div class="b c2 r4"><p><span class="one1" style="clip-path:polygon(-28px -28px,28px -28px,28px 10px,7.04px 10px,7.04px 28px,3.99px 28px,3.99px 10px,-28px 10px)">1</span>8</p></div>
<div class="b c3 r4"><p><span class="one1" style="clip-path:polygon(-28px -28px,28px -28px,28px 10px,7.04px 10px,7.04px 28px,3.99px 28px,3.99px 10px,-28px 10px)">1</span><br>Dpto. Tarija</p></div>
<div class="a c1 r5"><p>TOTAL</p></div>
<div class="a c2 r5"><p><span class="one" style="clip-path:polygon(-28px -28px,28px -28px,28px 10px,7.62px 10px,7.62px 28px,3.66px 28px,3.66px 10px,-28px 10px)">1</span>52</p></div>
<div class="a c3 r5"><p>25</p></div>
</div>
</body>
</html>
